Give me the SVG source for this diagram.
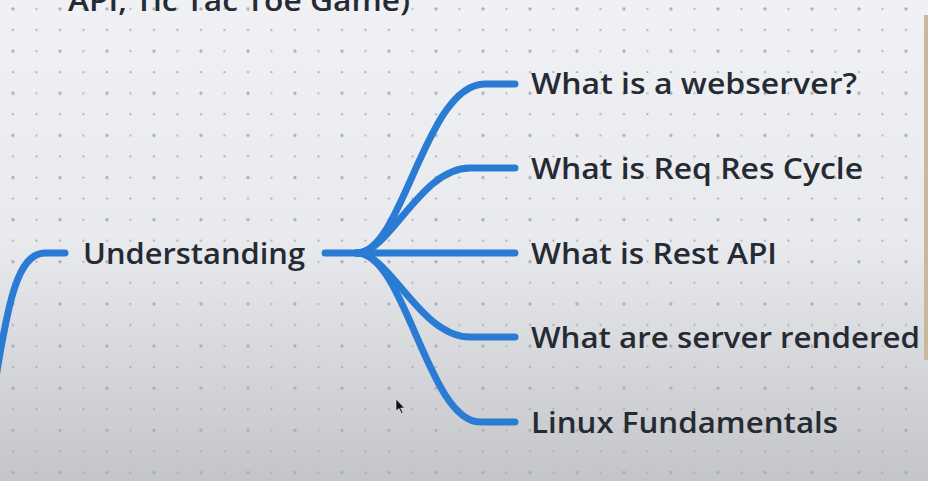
<svg xmlns="http://www.w3.org/2000/svg" width="928" height="481" viewBox="0 0 928 481">
<defs>
<linearGradient id="bg" x1="0" y1="0" x2="0" y2="1">
<stop offset="0" stop-color="#eff1f5"/>
<stop offset="0.5" stop-color="#e8eaee"/>
<stop offset="1" stop-color="#c3c5c9"/>
</linearGradient>
<pattern id="dots" patternUnits="userSpaceOnUse" x="1.25" y="-1.535" width="47" height="42.14">
<circle cx="11.75" cy="10.535" r="1.6" fill="#a9acb1"/>
<circle cx="35.25" cy="10.535" r="1.1" fill="#a9acb1"/>
<circle cx="11.75" cy="31.6" r="1.1" fill="#a9acb1"/>
<circle cx="35.25" cy="31.6" r="1.1" fill="#a9acb1"/>
</pattern>
<style>
.t{font-family:"Open Sans","Noto Sans",sans-serif;font-size:29px;font-weight:600;fill:#262a33}
.c{fill:none;stroke:#2a7bd3;stroke-width:7;stroke-linecap:round;stroke-linejoin:round}
</style>
</defs>
<rect width="928" height="481" fill="url(#bg)"/>
<rect width="928" height="481" fill="url(#dots)"/>
<rect x="924" y="15" width="4" height="345" fill="#c8b89e"/>
<text class="t" x="68" y="11" textLength="342" lengthAdjust="spacingAndGlyphs">API, Tic Tac Toe Game)</text>
<g id="connectors">
<path class="c" d="M-6 390 C8 300 18 253 45 253 H65"/>
<path class="c" d="M325 253 H357"/>
<path class="c" d="M357 253 C403 253 425 84 485 84 H515"/>
<path class="c" d="M357 253 C390 253 420 168 470 168 H515"/>
<path class="c" d="M357 253 H515"/>
<path class="c" d="M357 253 C390 253 420 337 470 337 H515"/>
<path class="c" d="M357 253 C405 253 428 422 480 422 H515"/>
</g>
<g id="understanding"><text class="t" x="83" y="264" textLength="222" lengthAdjust="spacingAndGlyphs">Understanding</text></g>
<g id="webserver"><text class="t" x="531" y="94" textLength="326" lengthAdjust="spacingAndGlyphs">What is a webserver?</text></g>
<g id="reqres"><text class="t" x="531" y="179" textLength="332" lengthAdjust="spacingAndGlyphs">What is Req Res Cycle</text></g>
<g id="restapi"><text class="t" x="531" y="264" textLength="246" lengthAdjust="spacingAndGlyphs">What is Rest API</text></g>
<g id="ssr"><text class="t" x="531" y="348" textLength="389" lengthAdjust="spacingAndGlyphs">What are server rendered</text></g>
<g id="linux"><text class="t" x="531" y="433" textLength="307" lengthAdjust="spacingAndGlyphs">Linux Fundamentals</text></g>
<path d="M396 399 L396 411 L399 408.5 L401.5 413.5 L403 412.8 L400.7 408 L404.5 408 Z" fill="#111" stroke="#eee" stroke-width="0.6"/>
</svg>
